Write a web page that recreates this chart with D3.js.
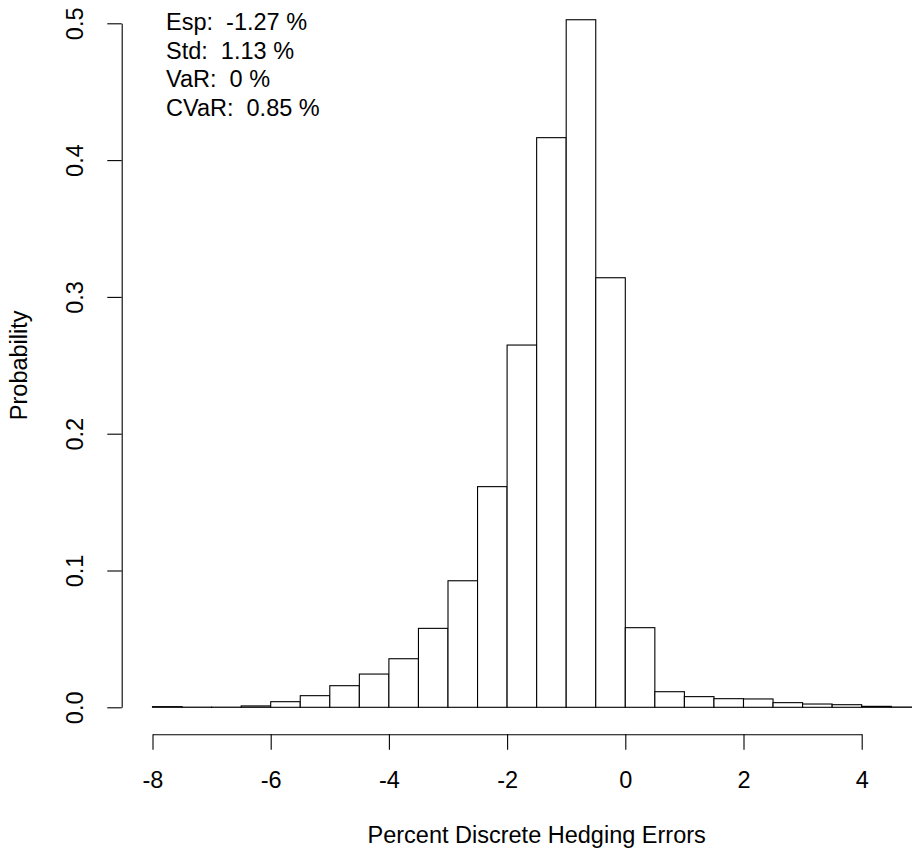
<!DOCTYPE html>
<html>
<head>
<meta charset="utf-8">
<script src="https://cdn.jsdelivr.net/npm/d3@7"></script>
<style>
  body { margin: 0; background: #fff; }
  svg { display: block; font-family: "Liberation Sans", Arial, Helvetica, sans-serif; }
</style>
</head>
<body>
<script>
// histogram bins (left edge, width 0.5) and probability per bin
var binStarts = [-8, -7.5, -7, -6.5, -6, -5.5, -5, -4.5, -4, -3.5, -3, -2.5, -2,
                 -1.5, -1, -0.5, 0, 0.5, 1, 1.5, 2, 2.5, 3, 3.5, 4, 4.5];
var binWidth = 0.5;
var probs = [0.0005, 0.0001, 0.0001, 0.0010, 0.0041, 0.0085, 0.0158, 0.0243, 0.0355,
             0.0577, 0.0925, 0.1613, 0.2648, 0.4164, 0.5026, 0.3140, 0.0582, 0.0114,
             0.0078, 0.0063, 0.0061, 0.0034, 0.0024, 0.0019, 0.0007, 0.0002];

var xTicks = [-8, -6, -4, -2, 0, 2, 4];
var yTicks = [0, 0.1, 0.2, 0.3, 0.4, 0.5];

var statLabels = ["Esp", "Std", "VaR", "CVaR"];
var statValues = ["-1.27", "1.13", "0", "0.85"];

var width = 912, height = 852;
var fontSize = 23.5;

var x = d3.scaleLinear().domain([-8, 4]).range([152.5, 861.7]);
var y = d3.scaleLinear().domain([0, 0.5]).range([707.3, 23.3]);

var svg = d3.select("body").append("svg")
    .attr("width", width)
    .attr("height", height);

// barras del histograma
var bins = binStarts.map(function(d, i) { return {x0: d, x1: d + binWidth, p: probs[i]}; });

svg.append("g")
  .selectAll("rect")
  .data(bins)
  .enter().append("rect")
    .attr("x", function(d) { return x(d.x0); })
    .attr("y", function(d) { return y(d.p); })
    .attr("width", function(d) { return x(d.x1) - x(d.x0); })
    .attr("height", function(d) { return y(0) - y(d.p); })
    .attr("fill", "#fff")
    .attr("stroke", "#000")
    .attr("stroke-width", 1.1);

// eje X (separado de las barras, como en R)
var xAxis = d3.axisBottom(x).tickValues(xTicks)
    .tickSize(15.5).tickSizeOuter(0);

var gx = svg.append("g")
    .attr("transform", "translate(0,734.3)")
    .call(xAxis);
gx.attr("font-size", null).attr("font-family", null);
gx.selectAll("path, line").attr("stroke", "#000").attr("stroke-width", 1.1);
gx.selectAll("text")
    .attr("fill", "#000")
    .style("font-size", fontSize + "px")
    .attr("dy", null)
    .attr("y", 54)
    .text(function(d) { return String(d); });

// eje Y con etiquetas giradas
var yAxis = d3.axisLeft(y).tickValues(yTicks).tickFormat(d3.format(".1f"))
    .tickSize(14.4).tickSizeOuter(0);

var gy = svg.append("g")
    .attr("transform", "translate(121.7,0)")
    .call(yAxis);
gy.attr("font-size", null).attr("font-family", null);
gy.selectAll("path, line").attr("stroke", "#000").attr("stroke-width", 1.1);
gy.selectAll("text")
    .attr("fill", "#000")
    .style("font-size", fontSize + "px")
    .attr("x", null)
    .attr("dy", null)
    .attr("text-anchor", "middle")
    .attr("transform", "translate(-38.4,0) rotate(-90)");

// titulos de los ejes (centrados en la region del grafico de R)
svg.append("text")
    .attr("x", x(-1.5))
    .attr("y", 843.3)
    .attr("text-anchor", "middle")
    .style("font-size", fontSize + "px")
    .text("Percent Discrete Hedging Errors");

svg.append("text")
    .attr("transform", "translate(26.7," + y(0.25) + ") rotate(-90)")
    .attr("text-anchor", "middle")
    .style("font-size", fontSize + "px")
    .text("Probability");

// resumen de estadisticos
svg.append("g")
  .selectAll("text")
  .data(statLabels)
  .enter().append("text")
    .attr("x", 166)
    .attr("y", function(d, i) { return 30 + i * 28.5; })
    .style("font-size", fontSize + "px")
    .style("white-space", "pre")
    .text(function(d, i) { return d + ":  " + statValues[i] + " %"; });
</script>
</body>
</html>
